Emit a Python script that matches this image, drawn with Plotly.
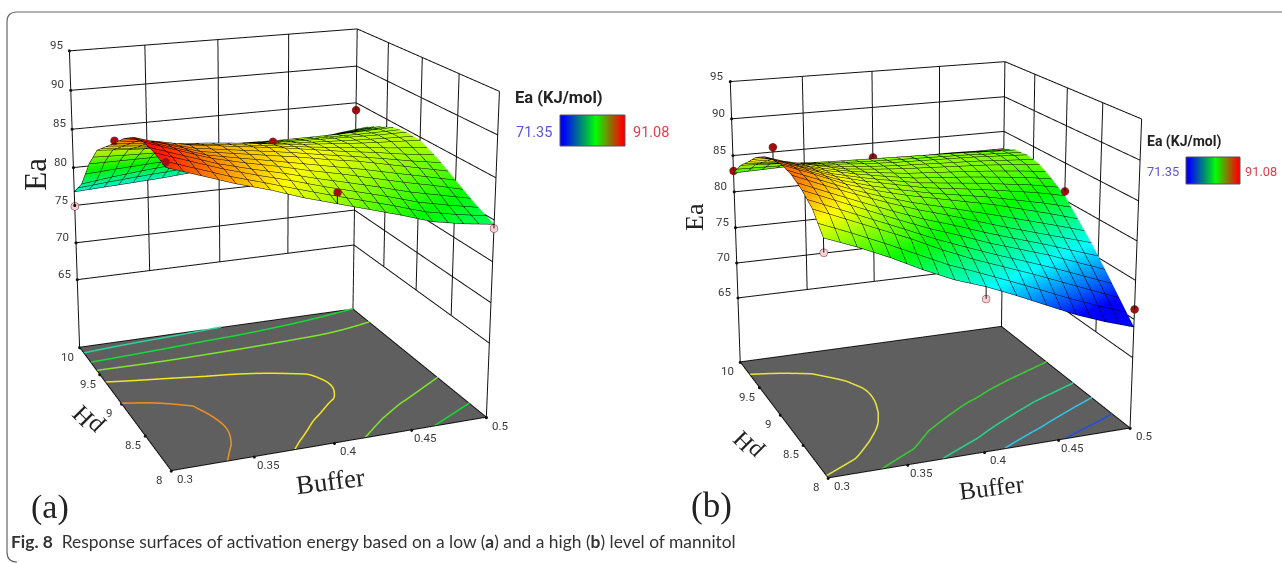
import numpy as np
import plotly.graph_objects as go

buffer_vals = [0.30,0.32,0.34,0.36,0.38,0.40,0.42,0.44,0.46,0.48,0.50]
ph_vals = [8.0,8.2,8.4,8.6,8.8,9.0,9.2,9.4,9.6,9.8,10.0]
ea_a = [
[90.2,88.9,87.6,86.5,85.2,84.1,83.0,81.9,80.7,80.0,79.5],
[90.8,89.5,88.2,87.1,86.1,85.0,84.0,83.0,81.9,81.1,80.4],
[91.0,89.7,88.4,87.5,86.7,85.8,85.0,84.1,83.2,82.4,81.5],
[90.6,89.4,88.2,87.6,87.0,86.4,85.7,85.1,84.3,83.5,82.7],
[89.5,88.8,88.0,87.5,87.0,86.5,85.9,85.3,84.8,84.2,83.8],
[88.0,87.6,87.2,86.9,86.5,86.0,85.6,85.3,85.0,84.8,84.6],
[86.6,86.2,85.9,85.6,85.4,85.2,85.0,84.9,84.8,84.7,84.7],
[85.2,84.9,84.7,84.5,84.4,84.3,84.2,84.2,84.2,84.3,84.4],
[82.5,82.5,82.5,82.6,82.7,82.8,82.9,83.0,83.1,83.3,83.6],
[78.9,79.4,79.8,80.1,80.4,80.6,80.9,81.3,81.7,82.2,82.6],
[76.8,77.0,77.2,77.4,77.7,78.0,78.4,78.8,79.3,79.9,80.5],
]
ea_b = [
[84.7,83.2,81.5,79.6,77.9,76.6,75.0,73.3,71.6,70.2,69.0],
[87.0,85.4,83.8,82.2,80.4,78.8,77.4,76.0,74.5,73.0,71.5],
[88.2,86.6,85.0,83.4,81.9,80.6,79.2,78.0,76.8,75.4,74.0],
[89.0,87.4,85.9,84.5,83.2,82.1,80.9,79.7,78.6,77.5,76.4],
[89.3,87.8,86.2,85.0,84.0,83.2,82.4,81.6,80.6,79.6,78.5],
[89.0,87.6,86.2,85.2,84.4,83.6,83.1,82.6,82.0,81.4,80.6],
[88.5,87.2,86.0,85.2,84.5,83.9,83.6,83.3,82.9,82.5,81.9],
[87.5,86.6,85.7,84.9,84.5,84.2,84.0,83.8,83.6,83.3,83.0],
[86.0,85.5,85.0,84.6,84.3,84.1,84.0,83.9,83.8,83.6,83.4],
[84.6,84.4,84.2,84.0,83.9,83.8,83.7,83.6,83.5,83.3,83.2],
[82.6,82.7,82.8,82.8,82.8,82.7,82.7,82.6,82.6,82.5,82.5],
]
levels_a = [78.01,80.51,83.01,85.51,88.01]
levels_b = [72.01,75.51,78.51,82.01,85.01]
level_colors_a = ['#2bd39b','#14dc32','#7ee62d','#f5e61e','#f0901e']
level_colors_b = ['#1d4fe0','#2fc4e8','#22d68a','#35d02e','#e6e63c']

red_a_x=[0.3,0.3,0.4,0.4,0.5]; red_a_y=[9,8,9,8,10]; red_a_z=[88.3,90.8,86.3,85.4,84.0]
pink_a_x=[0.3,0.5]; pink_a_y=[10,8]; pink_a_z=[74.9,79.0]
red_b_x=[0.3,0.3,0.4,0.5,0.5]; red_b_y=[10,9,10,9,8]; red_b_z=[82.9,90.6,83.0,81.2,71.3]
pink_b_x=[0.3,0.4]; pink_b_y=[8,8]; pink_b_z=[83.0,75.1]

x_ticks=[0.3,0.35,0.4,0.45,0.5]; x_labels=['0.3','0.35','0.4','0.45','0.5']
y_ticks=[8,8.5,9,9.5,10]; y_labels=['8','8.5','9','9.5','10']
z_ticks=[65,70,75,80,85,90,95]; z_labels=['65','70','75','80','85','90','95']
floor_z=55.6; top_z=95.0
x_rng=[.29,.51]; y_rng=[7.9,10.1]; z_rng=[54.0,96.0]
legend_ramp=[71.35,73.32,75.30,77.27,79.24,81.22,83.19,85.16,87.13,89.11,91.08]
W,H=1282,563
S=510; HF=1392
# camera: eye, center, aspect, principal point in the window (px), focal length (px)
CAM_A=dict(eye=(-1.6280,-4.1624,1.4549),center=(0.0025,0.0397,0.1287),aspect=(1.0,0.9907,0.9801),pp=(268.4,184.6),focal=1666.6)
CAM_B=dict(eye=(-1.6177,-4.1909,1.4001),center=(0.0199,0.0011,0.1040),aspect=(1.0,1.0070,0.9688),pp=(930.8,218.0),focal=1593.2)
T=np.tan(np.pi/8)

def contour_lines(rows,level):
    Z=np.array(rows); segs=[]
    for j in range(len(ph_vals)-1):
        for i in range(len(buffer_vals)-1):
            cs=[(buffer_vals[i],ph_vals[j],Z[j,i]),(buffer_vals[i+1],ph_vals[j],Z[j,i+1]),
                (buffer_vals[i+1],ph_vals[j+1],Z[j+1,i+1]),(buffer_vals[i],ph_vals[j+1],Z[j+1,i])]
            pts=[]
            for k in range(4):
                a,b=cs[k],cs[(k+1)%4]
                if (a[2]-level)*(b[2]-level)<0:
                    t=(level-a[2])/(b[2]-a[2])
                    pts.append((round(a[0]+t*(b[0]-a[0]),7),round(a[1]+t*(b[1]-a[1]),7)))
            for m in range(0,len(pts)-1,2):
                segs.append((pts[m],pts[m+1]))
    chains=[]
    while segs:
        ch=list(segs.pop())
        grown=True
        while grown:
            grown=False
            for s in list(segs):
                if s[0]==ch[-1]: ch.append(s[1])
                elif s[1]==ch[-1]: ch.append(s[0])
                elif s[0]==ch[0]: ch.insert(0,s[1])
                elif s[1]==ch[0]: ch.insert(0,s[0])
                else: continue
                segs.remove(s); grown=True
        chains.append(ch)
    xs,ys,zs=[],[],[]
    for ch in chains:
        pts=np.array(ch)
        for _ in range(3):
            if len(pts)<3: break
            q=[pts[0]]
            for a,b in zip(pts[:-1],pts[1:]):
                q+= [.75*a+.25*b,.25*a+.75*b]
            q.append(pts[-1]); pts=np.array(q)
        xs+=list(pts[:,0])+[None]; ys+=list(pts[:,1])+[None]; zs+=[floor_z+.12]*len(pts)+[None]
    return xs,ys,zs

def grid_lines():
    xs,ys,zs=[],[],[]
    def seg(a,b):
        xs.extend([a[0],b[0],None]);ys.extend([a[1],b[1],None]);zs.extend([a[2],b[2],None])
    x0,x1=x_ticks[0],x_ticks[-1];y0,y1=y_ticks[0],y_ticks[-1]
    for t in z_ticks:
        seg((x0,y1,t),(x1,y1,t));seg((x1,y1,t),(x1,y0,t))
    for t in x_ticks[1:-1]:
        seg((t,y1,z_ticks[0]),(t,y1,top_z))
    for t in y_ticks[1:-1]:
        seg((x1,t,z_ticks[0]),(x1,t,top_z))
    seg((x0,y1,floor_z),(x0,y1,top_z));seg((x1,y1,floor_z),(x1,y1,top_z));seg((x1,y0,floor_z),(x1,y0,top_z))
    f=floor_z+.06
    seg((x0,y0,f),(x1,y0,f));seg((x1,y0,f),(x1,y1,f));seg((x1,y1,f),(x0,y1,f));seg((x0,y1,f),(x0,y0,f))
    return xs,ys,zs

rainbow=[[0,'#0000ff'],[.25,'#00ffff'],[.5,'#00ff00'],[.75,'#ffff00'],[1,'#ff0000']]
fig=go.Figure()
def panel(rows,levels,cols,rx,ry,rz,px,py,pz,scene):
    gx,gy,gz=grid_lines()
    fig.add_trace(go.Scatter3d(x=gx,y=gy,z=gz,mode='lines',line=dict(color='#111',width=2),scene=scene,hoverinfo='skip',showlegend=False))
    fig.add_trace(go.Surface(x=[x_ticks[0],x_ticks[-1]],y=[y_ticks[0],y_ticks[-1]],z=[[floor_z,floor_z],[floor_z,floor_z]],
        surfacecolor=[[0,0],[0,0]],colorscale=[[0,'#5f5f5f'],[1,'#5f5f5f']],showscale=False,scene=scene,hoverinfo='skip',
        lighting=dict(ambient=1,diffuse=0,specular=0,fresnel=0)))
    for lv,c in zip(levels,cols):
        cx,cy,cz=contour_lines(rows,lv)
        fig.add_trace(go.Scatter3d(x=cx,y=cy,z=cz,mode='lines',line=dict(color=c,width=3),scene=scene,hoverinfo='skip',showlegend=False))
    fig.add_trace(go.Surface(x=buffer_vals,y=ph_vals,z=rows,colorscale=rainbow,cmin=71.35,cmax=91.08,showscale=False,scene=scene,
        lighting=dict(ambient=.95,diffuse=.15,specular=0,fresnel=0),
        contours=dict(x=dict(show=True,start=.3,end=.5,size=.01,color='#000',width=2),
                      y=dict(show=True,start=8,end=10,size=.1,color='#000',width=2),
                      z=dict(show=False))))
    def val(xv,yv):
        return rows[ph_vals.index(float(yv))][min(range(len(buffer_vals)),key=lambda i:abs(buffer_vals[i]-xv))]
    sx,sy,sz=[],[],[]
    for a,b,c in list(zip(rx,ry,rz))+list(zip(px,py,pz)):
        sx+=[a,a,None];sy+=[b,b,None];sz+=[c,val(a,b),None]
    fig.add_trace(go.Scatter3d(x=sx,y=sy,z=sz,mode='lines',line=dict(color='#111',width=2),scene=scene,hoverinfo='skip',showlegend=False))
    for X,Y,Z_,c in ((rx,ry,rz,'#a30d0d'),(px,py,pz,'#f6cfd2')):
        fig.add_trace(go.Scatter3d(x=X,y=Y,z=Z_,mode='markers',marker=dict(size=4.6,color=c,line=dict(color='#7a3030',width=1)),scene=scene,showlegend=False))
    tx=x_ticks+[x_ticks[0]]*len(y_ticks)+[x_ticks[0]]*len(z_ticks)
    ty=[y_ticks[0]]*len(x_ticks)+y_ticks+[y_ticks[-1]]*len(z_ticks)
    tz=[floor_z]*(len(x_ticks)+len(y_ticks))+z_ticks
    fig.add_trace(go.Scatter3d(x=tx,y=ty,z=tz,mode='markers',marker=dict(size=1.8,color='#111'),scene=scene,hoverinfo='skip',showlegend=False))
panel(ea_a,levels_a,level_colors_a,red_a_x,red_a_y,red_a_z,pink_a_x,pink_a_y,pink_a_z,'scene')
panel(ea_b,levels_b,level_colors_b,red_b_x,red_b_y,red_b_z,pink_b_x,pink_b_y,pink_b_z,'scene2')

tick_font=dict(family='Roboto',size=11.5,color='#3a3a3a')
def anns():
    out=[]
    for v,t in zip(x_ticks,x_labels):
        out.append(dict(x=v,y=y_ticks[0],z=floor_z,text=t,showarrow=False,xshift=14,yshift=-8,font=tick_font))
    for v,t in zip(y_ticks,y_labels):
        out.append(dict(x=x_ticks[0],y=v,z=floor_z,text=t,showarrow=False,xshift=-12,yshift=-9,font=tick_font))
    for v,t in zip(z_ticks,z_labels):
        out.append(dict(x=x_ticks[0],y=y_ticks[-1],z=v,text=t,showarrow=False,xshift=-13,yshift=6,font=tick_font))
    return out
def scene_layout(cam,domx):
    ax=dict(visible=False)
    h=2*cam['focal']*T
    y0=cam['pp'][1]+S-h/2; y1=cam['pp'][1]+S+h/2
    xyz=lambda v:dict(x=v[0],y=v[1],z=v[2])
    return dict(domain=dict(x=domx,y=[1-y1/HF,1-y0/HF]),aspectmode='manual',aspectratio=xyz(cam['aspect']),
        camera=dict(eye=xyz(cam['eye']),center=xyz(cam['center']),up=dict(x=0,y=0,z=1),projection=dict(type='perspective')),
        xaxis=dict(range=x_rng,**ax),yaxis=dict(range=y_rng,**ax),zaxis=dict(range=z_rng,**ax),
        annotations=anns(),bgcolor='rgba(0,0,0,0)')

def PX(v): return v/W
def PY(v): return 1-(v+S)/HF
legend_scale=[[0,'#0000ff'],[.55,'#00ff00'],[1,'#ff0000']]
fig.add_trace(go.Heatmap(z=[legend_ramp],colorscale=legend_scale,showscale=False,xaxis='x',yaxis='y',zsmooth='best',hoverinfo='skip'))
fig.add_trace(go.Heatmap(z=[legend_ramp],colorscale=legend_scale,showscale=False,xaxis='x2',yaxis='y2',zsmooth='best',hoverinfo='skip'))
def hidden(dom,anchor):
    return dict(domain=dom,visible=False,anchor=anchor)
def A(x,y,t,size,fam,col='#222',ang=0,xa='center'):
    return dict(x=PX(x),y=PY(y),xref='paper',yref='paper',text=t,showarrow=False,font=dict(size=size,family=fam,color=col),textangle=ang,xanchor=xa,yanchor='middle')
serif='Liberation Serif'; narrow='Roboto'
annotations=[
 A(34.7,174,'Ea',31,serif,ang=-90),A(87,421,'pH',25,serif,ang=-135),A(330.6,481,'Buffer',26.5,serif,ang=-7),
 A(50,507,'(a)',34,serif),
 A(694,217,'Ea',26,serif,ang=-90),A(748,446,'pH',24,serif,ang=-135),A(991,487,'Buffer',25,serif,ang=-7),
 A(711,505,'(b)',35,serif),
 A(559,97,'<b>Ea (KJ/mol)</b>',16.5,narrow),A(534,132,'71.35',14.5,narrow,'#5a55d8'),A(651,132,'91.08',14.5,narrow,'#e0404a'),
 A(1184,141,'<b>Ea (KJ/mol)</b>',14,narrow),A(1163,171,'71.35',12.8,narrow,'#5a55d8'),A(1261,171,'91.08',12.8,narrow,'#e0404a'),
 dict(x=PX(9),y=PY(541.5),xref='paper',yref='paper',xanchor='left',yanchor='middle',showarrow=False,
      text='<b>Fig. 8</b>  Response surfaces of activation energy based on a low (<b>a</b>) and a high (<b>b</b>) level of mannitol',
      font=dict(size=17.4,family='Lato',color='#333')),
]
shapes=[
 dict(type='path',xref='paper',yref='paper',path=f'M 1,{PY(12)} L {PX(17)},{PY(12)} Q {PX(7)},{PY(12)} {PX(7)},{PY(22)} L {PX(7)},{PY(552)} Q {PX(7)},{PY(562)} {PX(17)},{PY(562)}',line=dict(color='#666',width=1.2)),
 dict(type='rect',xref='paper',yref='paper',x0=PX(560),x1=PX(625),y0=PY(146),y1=PY(115),line=dict(color='#555',width=1)),
 dict(type='rect',xref='paper',yref='paper',x0=PX(1186),x1=PX(1240),y0=PY(184),y1=PY(157),line=dict(color='#555',width=1)),
]
doma=[0,2*CAM_A['pp'][0]/W]
domb=[(2*CAM_B['pp'][0]-W)/W,1]
fig.update_layout(width=W,height=HF,margin=dict(l=0,r=0,t=0,b=0),paper_bgcolor='white',plot_bgcolor='white',showlegend=False,
    scene=scene_layout(CAM_A,doma),scene2=scene_layout(CAM_B,domb),annotations=annotations,shapes=shapes,
    xaxis=hidden([PX(560),PX(625)],'y'),yaxis=hidden([PY(146),PY(115)],'x'),xaxis2=hidden([PX(1186),PX(1240)],'y2'),yaxis2=hidden([PY(184),PY(157)],'x2'))
fig.write_html('out.html',config={'displayModeBar':False},post_script=f"document.body.style.margin='0';document.documentElement.style.overflow='hidden';document.body.style.overflow='hidden';document.querySelector('.plotly-graph-div').style.marginTop='-{S}px';")
